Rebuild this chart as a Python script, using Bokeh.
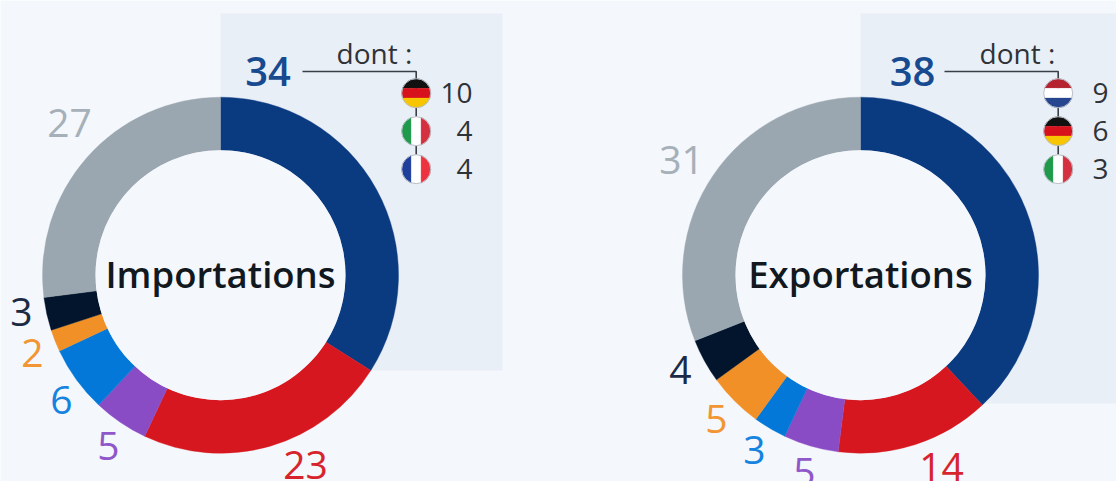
import numpy as np
from bokeh.plotting import figure
from bokeh.embed import file_html
from bokeh.resources import INLINE
from bokeh.core.properties import value

# ---- data ----
segments = ["Europe", "Asie", "Moyen-Orient", "Afrique", "Amerique", "Autres", "Reste"]
imports_vals = [34, 23, 5, 6, 2, 3, 27]
exports_vals = [38, 14, 5, 3, 5, 4, 31]
import_label = "Importations"
export_label = "Exportations"
import_sub = ["10", "4", "4"]
export_sub = ["9", "6", "3"]
import_flags = ["de", "it", "fr"]
export_flags = ["nl", "de", "it"]
sub_title = "dont :"

# ---- styles ----
BG = "#f4f7fb"
PANEL = "#e9eff7"
colors = ["#0a3a80", "#d7171f", "#8a4cc4", "#0478d8", "#f19027", "#02152d", "#9ba7b0"]
label_colors = ["#174a8f", "#d7242c", "#8f57c9", "#1583df", "#f29533", "#1c2b45", "#a6b0b9"]
FONT = "Open Sans"
SEMI = "Open Sans SemiBold"
FLAGS = {
    "de": ("h", ["#111111", "#d8121c", "#f7c600"]),
    "nl": ("h", ["#b4232f", "#ffffff", "#27468f"]),
    "it": ("v", ["#1f9a4a", "#ffffff", "#d5303f"]),
    "fr": ("v", ["#1f3f9c", "#ffffff", "#ee3340"]),
}

W, H = 1116, 481
CY = 274.7
R_OUT, R_IN = 178, 125
FLAG_R = 14.5
FLAG_Y = [92.7, 130.7, 168.7]

p = figure(width=W, height=H, x_range=(0, W), y_range=(0, H),
           toolbar_location=None, output_backend="svg", min_border=0,
           background_fill_color=BG, border_fill_color=BG, outline_line_color=None)
p.axis.visible = False
p.grid.visible = False


def py(y):
    return H - y


def text(x, y, s, color, size, align="center", font=FONT):
    p.text([x], [py(y)], text=[s], text_color=color, text_font=value(font),
           text_font_size=f"{size}px", text_align=align, text_baseline="middle")


def flag(cx, cy, code):
    kind, cols = FLAGS[code]
    r = FLAG_R
    edges = [-r, -r / 3, r / 3, r]
    for i, c in enumerate(cols):
        t = np.linspace(edges[i], edges[i + 1], 24)
        h = np.sqrt(np.maximum(r * r - t * t, 0))
        a = np.concatenate([t, t[::-1]])
        b = np.concatenate([h, -h[::-1]])
        if kind == "h":
            xs, ys = cx + b, py(cy + a)
        else:
            xs, ys = cx + a, py(cy + b)
        p.patch(xs, ys, fill_color=c, line_color=c, line_width=0.3)
    p.scatter([cx], [py(cy)], size=2 * r, fill_color=None, line_color="#b9bec6",
              line_width=1)


def donut(cx, vals, name, panel, total_xy, others_xy, sub, flags, line_x, flag_x, sub_x, dont_x):
    px0, px1, pb = panel
    p.quad(left=px0, right=px1, top=py(13), bottom=py(pb), fill_color=PANEL, line_color=None)
    cum = np.cumsum([0] + vals) / sum(vals) * 2 * np.pi
    p.annular_wedge([cx] * len(vals), [py(CY)] * len(vals), inner_radius=R_IN, outer_radius=R_OUT,
                    start_angle=np.pi / 2 - cum[:-1], end_angle=np.pi / 2 - cum[1:],
                    direction="clock", fill_color=colors, line_color=colors, line_width=0.4)
    p.scatter([cx], [py(CY)], size=2 * R_IN, fill_color=BG, line_color=None)
    text(cx, CY - 1, name, "#111820", 36.5, font=SEMI)
    text(total_xy[0], total_xy[1], str(vals[0]), label_colors[0], 40, font=SEMI)
    for (x, y), v, c in zip(others_xy, vals[1:], label_colors[1:]):
        text(x, y, str(v), c, 39)
    p.line([line_x, flag_x, flag_x], [py(71), py(71), py(FLAG_Y[-1])],
           line_color="#3a3f45", line_width=1.6)
    text(dont_x, 52, sub_title, "#2f3338", 28)
    for y, s, f in zip(FLAG_Y, sub, flags):
        flag(flag_x, y, f)
        text(sub_x, y - 0.5, s, "#2f3338", 28, align="right")


donut(220, imports_vals, import_label, (220, 502, 370), (267.5, 71),
      [(305, 464), (108, 445), (61, 399), (32, 352), (21, 311), (69, 122)],
      import_sub, import_flags, 302, 415.7, 472, 374)
donut(860, exports_vals, export_label, (860, 1116, 403), (912, 71),
      [(941, 466), (804, 471), (754, 449), (716, 418), (680, 369), (681, 159)],
      export_sub, export_flags, 944, 1057.7, 1108, 1017)

open("out.html", "w").write(file_html(p, INLINE))
